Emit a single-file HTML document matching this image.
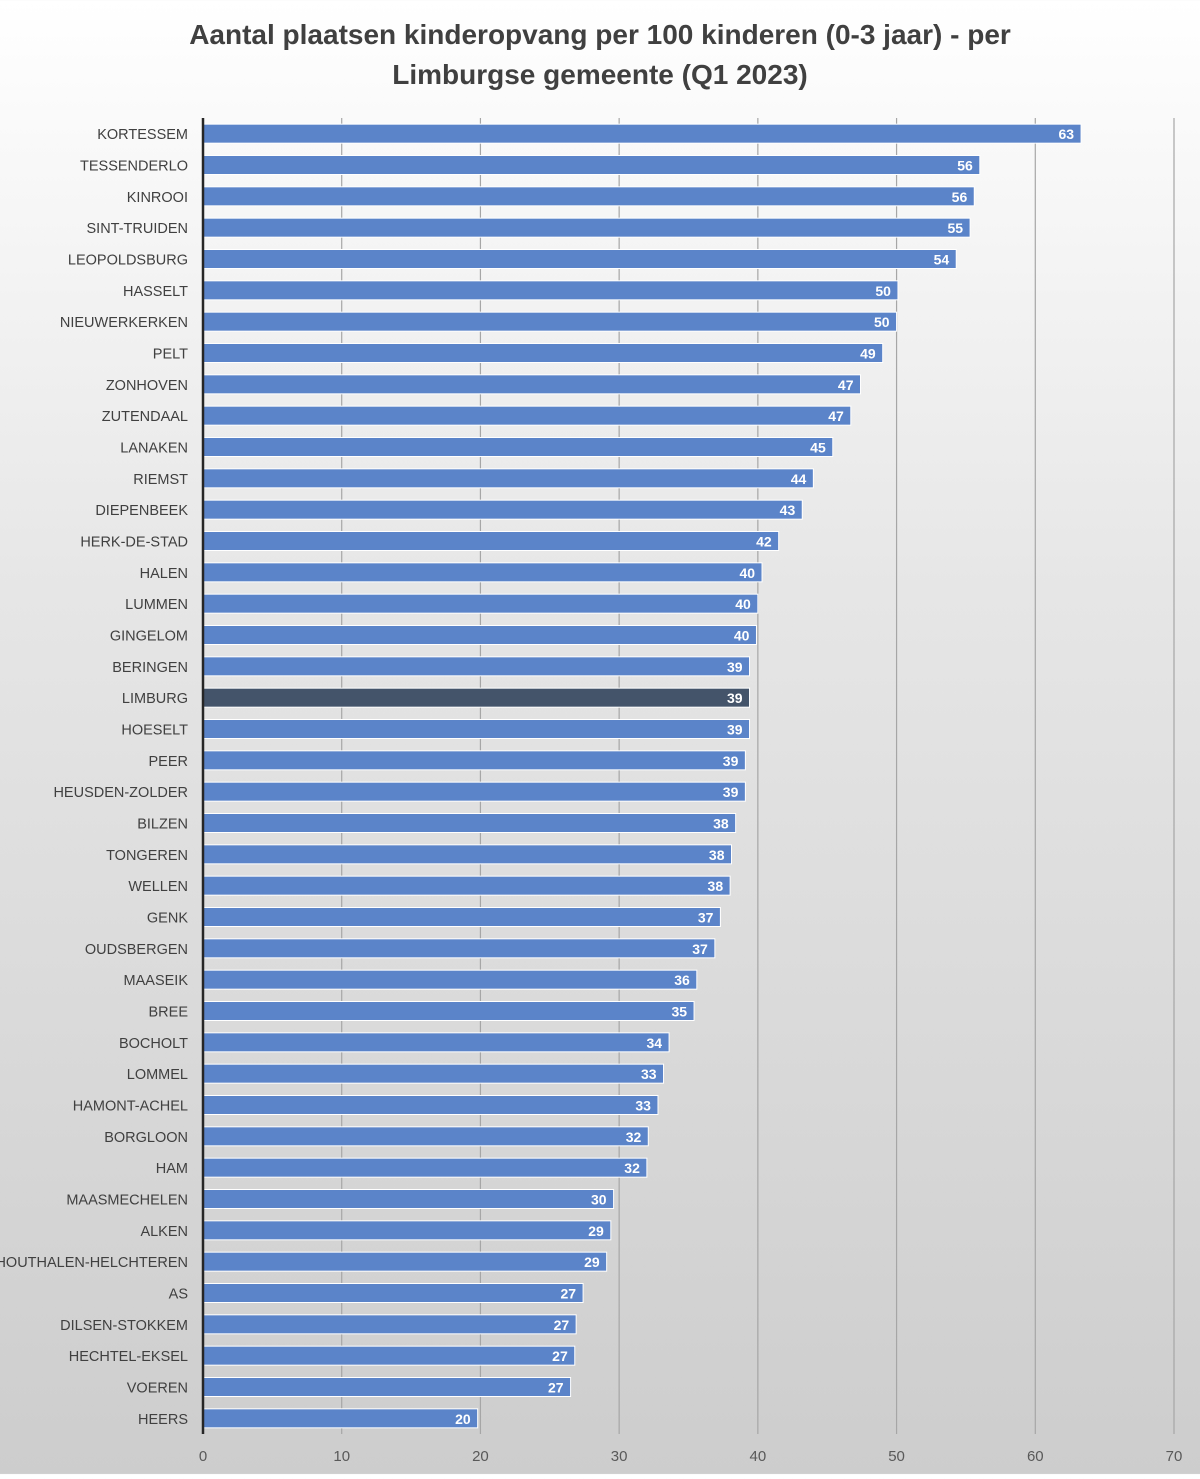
<!DOCTYPE html>
<html><head><meta charset="utf-8"><style>
html,body{margin:0;padding:0}
body{width:1200px;height:1474px;background:linear-gradient(#ffffff 0%,#e6e6e6 40%,#cdcdcd 100%);font-family:"Liberation Sans",sans-serif;overflow:hidden}
</style></head><body>
<svg id="chart" width="1200" height="1474" xmlns="http://www.w3.org/2000/svg">
<text x="600" y="44" text-anchor="middle" font-size="28" font-weight="bold" fill="#404040" font-family="Liberation Sans, sans-serif">Aantal plaatsen kinderopvang per 100 kinderen (0-3 jaar) - per</text>
<text x="600" y="84" text-anchor="middle" font-size="28" font-weight="bold" fill="#404040" font-family="Liberation Sans, sans-serif">Limburgse gemeente (Q1 2023)</text>
<g id="grid"></g><g id="bars"></g><g id="axis"></g>
</svg>
<script>
const categories=["KORTESSEM","TESSENDERLO","KINROOI","SINT-TRUIDEN","LEOPOLDSBURG","HASSELT","NIEUWERKERKEN","PELT","ZONHOVEN","ZUTENDAAL","LANAKEN","RIEMST","DIEPENBEEK","HERK-DE-STAD","HALEN","LUMMEN","GINGELOM","BERINGEN","LIMBURG","HOESELT","PEER","HEUSDEN-ZOLDER","BILZEN","TONGEREN","WELLEN","GENK","OUDSBERGEN","MAASEIK","BREE","BOCHOLT","LOMMEL","HAMONT-ACHEL","BORGLOON","HAM","MAASMECHELEN","ALKEN","HOUTHALEN-HELCHTEREN","AS","DILSEN-STOKKEM","HECHTEL-EKSEL","VOEREN","HEERS"];
const values=[63.3,56.0,55.6,55.3,54.3,50.1,50.0,49.0,47.4,46.7,45.4,44.0,43.2,41.5,40.3,40.0,39.9,39.4,39.4,39.4,39.1,39.1,38.4,38.1,38.0,37.3,36.9,35.6,35.4,33.6,33.2,32.8,32.1,32.0,29.6,29.4,29.1,27.4,26.9,26.8,26.5,19.8];
const ticks=[0,10,20,30,40,50,60,70];
const highlight="LIMBURG";
const NS="http://www.w3.org/2000/svg";
const x0=203,xmax=1174,vmax=70,yTop=118,yBot=1434;
const xs=v=>x0+(xmax-x0)*v/vmax;
const n=categories.length;
const band=(yBot-yTop)/n;
const yc=i=>yTop+band*(i+0.5);
function mk(tag,attrs,parent){const e=document.createElementNS(NS,tag);for(const k in attrs)e.setAttribute(k,attrs[k]);parent.appendChild(e);return e;}
const grid=document.getElementById('grid'),bars=document.getElementById('bars'),axis=document.getElementById('axis');
ticks.forEach(t=>{
  if(t>0){const l=mk('line',{x1:xs(t),x2:xs(t),y1:yTop,y2:yBot,stroke:'#a6a6a6','stroke-width':1.2},grid);
  
  }
  const tx=mk('text',{x:xs(t),y:1461,'text-anchor':'middle','font-size':15,fill:'#595959'},axis);
  tx.textContent=t;
  
  
});
categories.forEach((c,i)=>{
  const y=yc(i),h=19;
  const r=mk('rect',{x:x0,y:y-h/2,width:xs(values[i])-x0,height:h,fill:c===highlight?'#44546a':'#5b84c9',stroke:'#ffffff','stroke-width':1},bars);
  
  
  const lb=mk('text',{x:xs(values[i])-7,y:y+5.5,'text-anchor':'end','font-size':14,'font-weight':'bold',fill:'#ffffff'},bars);
  lb.textContent=Math.round(values[i]);
  
  
  const cl=mk('text',{x:188,y:y+5.5,'text-anchor':'end','font-size':14.5,fill:'#404040'},axis);
  cl.textContent=c;
  
  
});
const ax=mk('line',{x1:x0,x2:x0,y1:yTop,y2:yBot,stroke:'#262626','stroke-width':2.5},axis);


</script>
</body></html>
